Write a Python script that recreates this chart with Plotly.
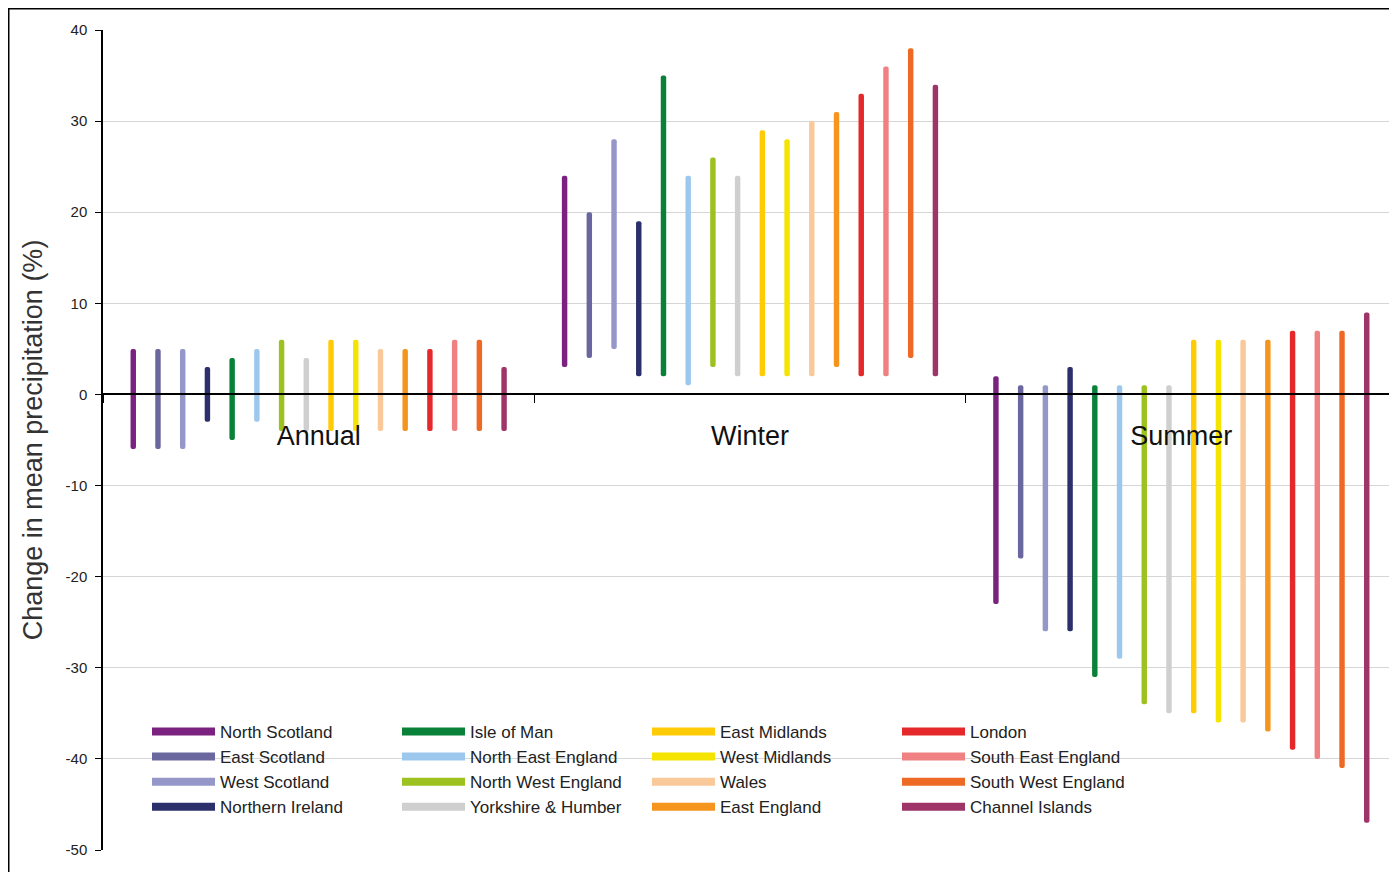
import plotly.graph_objects as go

periods = ["Annual", "Winter", "Summer"]
regions = ["North Scotland", "East Scotland", "West Scotland", "Northern Ireland",
           "Isle of Man", "North East England", "North West England", "Yorkshire & Humber",
           "East Midlands", "West Midlands", "Wales", "East England",
           "London", "South East England", "South West England", "Channel Islands"]
colors = ["#7B2280", "#6A679E", "#9497C8", "#2B2F6B",
          "#0A8139", "#9DC8EE", "#9DC21F", "#CFCFCF",
          "#FFCB05", "#F5E400", "#F9C99A", "#F5951E",
          "#E5282A", "#F08183", "#EE6A24", "#9E3467"]

# lower / upper bounds of projected change (%) per region, for [Annual, Winter, Summer]
low = [[-6, 3, -23], [-6, 4, -18], [-6, 5, -26], [-3, 2, -26],
       [-5, 2, -31], [-3, 1, -29], [-4, 3, -34], [-4, 2, -35],
       [-4, 2, -35], [-4, 2, -36], [-4, 2, -36], [-4, 3, -37],
       [-4, 2, -39], [-4, 2, -40], [-4, 4, -41], [-4, 2, -47]]
high = [[5, 24, 2], [5, 20, 1], [5, 28, 1], [3, 19, 3],
        [4, 35, 1], [5, 24, 1], [6, 26, 1], [4, 24, 1],
        [6, 29, 6], [6, 28, 6], [5, 30, 6], [5, 31, 6],
        [5, 33, 7], [6, 36, 7], [6, 38, 7], [3, 34, 9]]

y_tickvals = [-50, -40, -30, -20, -10, 0, 10, 20, 30, 40]
y_ticktext = ["-50", "-40", "-30", "-20", "-10", "0", "10", "20", "30", "40"]

fig = go.Figure()
for i, name in enumerate(regions):
    fig.add_trace(go.Bar(
        x=periods,
        y=[h - l for h, l in zip(high[i], low[i])],
        base=low[i],
        name=name,
        marker=dict(color=colors[i], line=dict(width=0), cornerradius=2),
        showlegend=False,
    ))
for i, name in enumerate(regions):
    fig.add_trace(go.Scatter(
        x=[None], y=[None], mode="lines", name=name,
        line=dict(color=colors[i], width=8),
        legendrank=(i % 4) * 4 + i // 4 + 1,
        showlegend=True,
    ))

W, H = 1389, 864
L, R, T, B = 95, 0, 22, 22
pw, ph = W - L - R, H - T - B

font_family = "Liberation Sans, Arial, sans-serif"
fig.update_layout(
    width=W, height=H,
    margin=dict(l=L, r=R, t=T, b=B),
    paper_bgcolor="white", plot_bgcolor="white",
    barmode="group", bargap=0.083, bargroupgap=0.78,
    font=dict(family=font_family, color="#222"),
    xaxis=dict(
        type="category", anchor="free", position=50 / 90,
        showline=True, linecolor="black", linewidth=1.5,
        ticks="outside", tickson="boundaries", ticklen=8, tickcolor="black",
        showgrid=False, tickfont=dict(size=27, color="#111"),
        ticklabelstandoff=17,
    ),
    yaxis=dict(
        range=[-50, 40], tickvals=y_tickvals, ticktext=y_ticktext,
        showgrid=True, gridcolor="#D6D6D6", gridwidth=1,
        zeroline=False,
        showline=True, linecolor="black", linewidth=1.5,
        ticks="outside", ticklen=6, tickcolor="black",
        tickfont=dict(size=15, color="#222"),
        ticklabelstandoff=5,
        title=dict(text="Change in mean precipitation (%)", font=dict(size=27, color="#333"), standoff=15),
    ),
    legend=dict(
        orientation="h", x=0.041, y=0.166, xanchor="left", yanchor="top",
        bgcolor="rgba(0,0,0,0)", font=dict(size=17, color="#222"),
        entrywidth=172, entrywidthmode="pixels", itemwidth=63,
        traceorder="normal", tracegroupgap=0,
    ),
    shapes=[dict(type="rect", xref="paper", yref="paper",
                 x0=(0.75 - L) / pw, x1=(W + 10 - L) / pw,
                 y0=-(B + 10) / ph, y1=1 + (T - 0.75) / ph,
                 line=dict(color="black", width=1.5), layer="below")],
)

fig.write_html("out.html")
